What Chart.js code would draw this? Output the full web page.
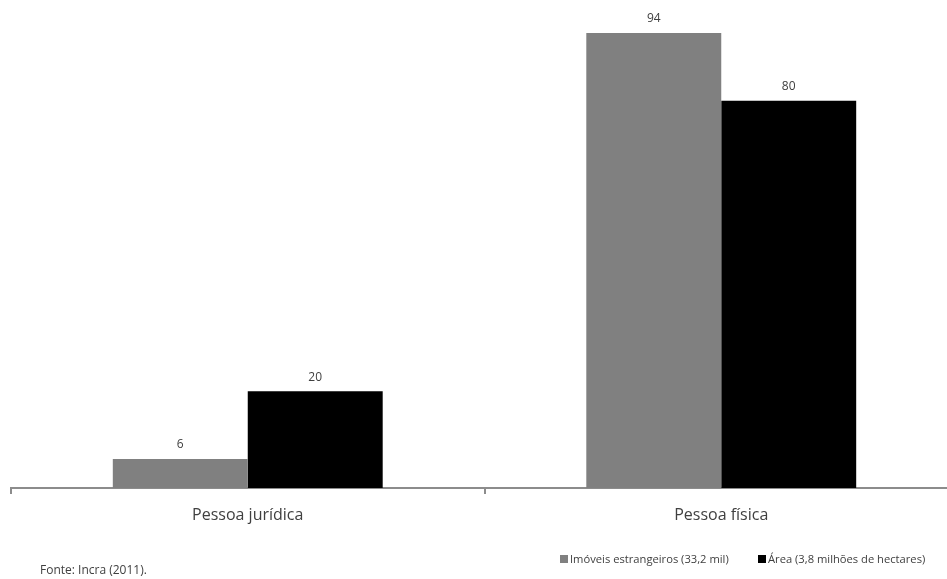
<!DOCTYPE html>
<html lang="pt">
<head>
<meta charset="utf-8">
<title>Imóveis estrangeiros por tipo de proprietário</title>
<script src="https://cdn.jsdelivr.net/npm/chart.js@4/dist/chart.umd.min.js"></script>
<style>
  html, body { margin: 0; padding: 0; background: #ffffff; }
  body { width: 947px; height: 579px; overflow: hidden; position: relative; font-family: "Open Sans", sans-serif; }
  #wrap { position: absolute; left: 0; top: 0; width: 958px; height: 579px; }
  .legend { position: absolute; top: 551px; font-size: 11.2px; color: #404040; white-space: nowrap; line-height: 16px; }
  .legend span.box { display: inline-block; width: 8px; height: 8px; margin-right: 2px; vertical-align: 0px; }
  #source { position: absolute; left: 40px; top: 562px; font-size: 12px; color: #404040; line-height: 16px; }
</style>
</head>
<body>
<div id="wrap"><canvas id="chart" width="958" height="579"></canvas></div>
<div class="legend" style="left:560px"><span class="box" style="background:#808080"></span>Imóveis estrangeiros (33,2 mil)</div>
<div class="legend" style="left:758px"><span class="box" style="background:#000000"></span>Área (3,8 milhões de hectares)</div>
<div id="source">Fonte: Incra (2011).</div>
<script>
// Participação (%) por tipo de proprietário estrangeiro
const categories = ["Pessoa jurídica", "Pessoa física"];
const imoveis = [6, 94];
const area = [20, 80];
const seriesNames = ["Imóveis estrangeiros (33,2 mil)", "Área (3,8 milhões de hectares)"];

// Writes each bar's value just above its top edge
const valueLabels = {
  id: "valueLabels",
  afterDatasetsDraw(chart) {
    const ctx = chart.ctx;
    ctx.save();
    ctx.font = "12px 'Open Sans', sans-serif";
    ctx.fillStyle = "#404040";
    ctx.textAlign = "center";
    ctx.textBaseline = "middle";
    chart.data.datasets.forEach((ds, i) => {
      chart.getDatasetMeta(i).data.forEach((bar, j) => {
        ctx.fillText(String(ds.data[j]), bar.x, bar.y - 14);
      });
    });
    ctx.restore();
  }
};

new Chart(document.getElementById("chart"), {
  type: "bar",
  data: {
    labels: categories,
    datasets: [
      { label: seriesNames[0], data: imoveis, backgroundColor: "#808080" },
      { label: seriesNames[1], data: area, backgroundColor: "#000000" }
    ]
  },
  options: {
    responsive: false,
    animation: false,
    devicePixelRatio: 1,
    categoryPercentage: 0.57,
    barPercentage: 1,
    layout: { padding: { left: 11, top: 4, right: 0, bottom: 0 } },
    plugins: {
      legend: { display: false },
      tooltip: { enabled: false }
    },
    scales: {
      x: {
        afterFit(scale) { scale.height = 91; },
        border: { display: true, color: "#8c8c8c", width: 2 },
        grid: {
          display: true,
          offset: true,
          drawOnChartArea: false,
          drawTicks: true,
          tickLength: 6,
          color: "#8c8c8c",
          lineWidth: 2
        },
        ticks: {
          color: "#404040",
          font: { family: "'Open Sans', sans-serif", size: 16 },
          padding: 12
        }
      },
      y: {
        display: false,
        min: 0,
        max: 100
      }
    }
  },
  plugins: [valueLabels]
});
</script>
</body>
</html>
